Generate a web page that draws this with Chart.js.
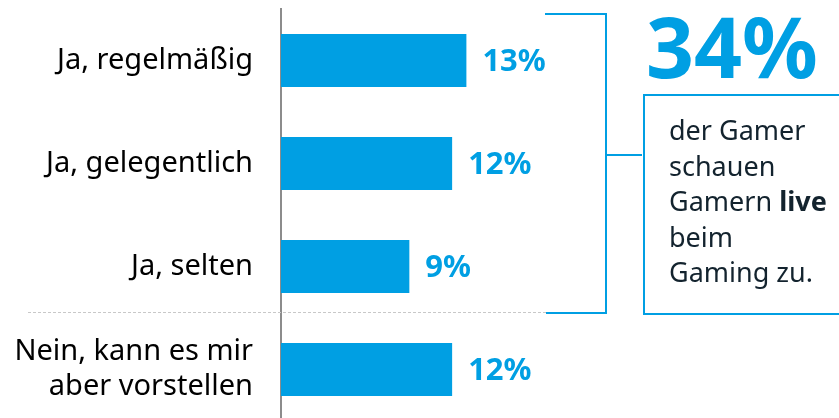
<!DOCTYPE html>
<html>
<head>
    <meta charset="utf-8">
    <title>Gamer schauen Gamern live</title>
    <script src="https://cdn.jsdelivr.net/npm/chart.js"></script>
    <style>
      html, body { margin: 0; padding: 0; overflow: hidden; background: #fff; }
      #wrap { width: 839px; height: 422px; }
    </style>
</head>
<body>
    <div id="wrap"><canvas id="gameChart" width="839" height="422"></canvas></div>

    <script>
    // data
    const categories = ['Ja, regelmäßig', 'Ja, gelegentlich', 'Ja, selten', ['Nein, kann es mir', 'aber vorstellen']];
    const shares = [13, 12, 9, 12];
    const totalShare = 34;
    const boxLines = ['der Gamer', 'schauen', 'Gamern ', 'beim', 'Gaming zu.'];
    const boxBold = 'live';

    const blue = '#009fe3';
    const fontFam = '"Noto Sans", "Open Sans", sans-serif';

    const valueLabels = {
      id: 'valueLabels',
      afterDatasetsDraw(chart) {
        const ctx = chart.ctx;
        const meta = chart.getDatasetMeta(0);
        ctx.save();
        ctx.fillStyle = blue;
        ctx.font = 'bold 31px ' + fontFam;
        ctx.textBaseline = 'middle';
        meta.data.forEach((bar, i) => {
          ctx.fillText(shares[i] + '%', bar.x + 16, bar.y + 2);
        });
        ctx.restore();
      }
    };

    const extras = {
      id: 'extras',
      afterDraw(chart) {
        const ctx = chart.ctx;
        ctx.save();
        // dotted separator
        ctx.strokeStyle = '#c8c8c8';
        ctx.lineWidth = 1;
        ctx.setLineDash([3, 2]);
        ctx.beginPath();
        ctx.moveTo(28, 312.5);
        ctx.lineTo(546, 312.5);
        ctx.stroke();
        ctx.setLineDash([]);

        // bracket
        ctx.strokeStyle = blue;
        ctx.lineWidth = 2;
        ctx.beginPath();
        ctx.moveTo(545, 14);
        ctx.lineTo(606, 14);
        ctx.lineTo(606, 313);
        ctx.lineTo(546, 313);
        ctx.moveTo(606, 155);
        ctx.lineTo(642, 155);
        ctx.stroke();

        // box
        ctx.strokeRect(644, 95, 210, 219);

        // big number
        ctx.fillStyle = blue;
        ctx.font = 'bold 84px ' + fontFam;
        ctx.textBaseline = 'alphabetic';
        ctx.fillText(totalShare + '%', 646, 78);

        // box text
        ctx.fillStyle = '#13232e';
        boxLines.forEach((t, i) => {
          const y = 140 + i * 35.5;
          ctx.font = '27px ' + fontFam;
          ctx.fillText(t, 669, y);
          if (i === 2) {
            const w = ctx.measureText(t).width;
            ctx.font = 'bold 27px ' + fontFam;
            ctx.fillText(boxBold, 669 + w, y);
          }
        });
        ctx.restore();
      }
    };

    new Chart(document.getElementById('gameChart'), {
      type: 'bar',
      data: {
        labels: categories,
        datasets: [{
          data: shares,
          backgroundColor: blue,
          borderWidth: 0,
          barPercentage: 0.515,
          categoryPercentage: 1
        }]
      },
      options: {
        indexAxis: 'y',
        responsive: false,
        animation: false,
        layout: { padding: { top: 9, right: 230, bottom: 1, left: 0 } },
        plugins: { legend: { display: false }, tooltip: { enabled: false } },
        scales: {
          x: { display: false, min: 0, max: 23 },
          y: {
            grid: { display: false, drawTicks: false },
            border: { display: true, color: '#8c8c8c', width: 2 },
            ticks: {
              color: '#000',
              padding: 28,
              font: { family: fontFam, size: 29, lineHeight: 1.2 }
            },
            afterFit(scale) {
              scale.width = 281;
              scale.paddingTop = 0;
              scale.paddingBottom = 0;
            }
          }
        }
      },
      plugins: [valueLabels, extras]
    });
    </script>
</body>
</html>
